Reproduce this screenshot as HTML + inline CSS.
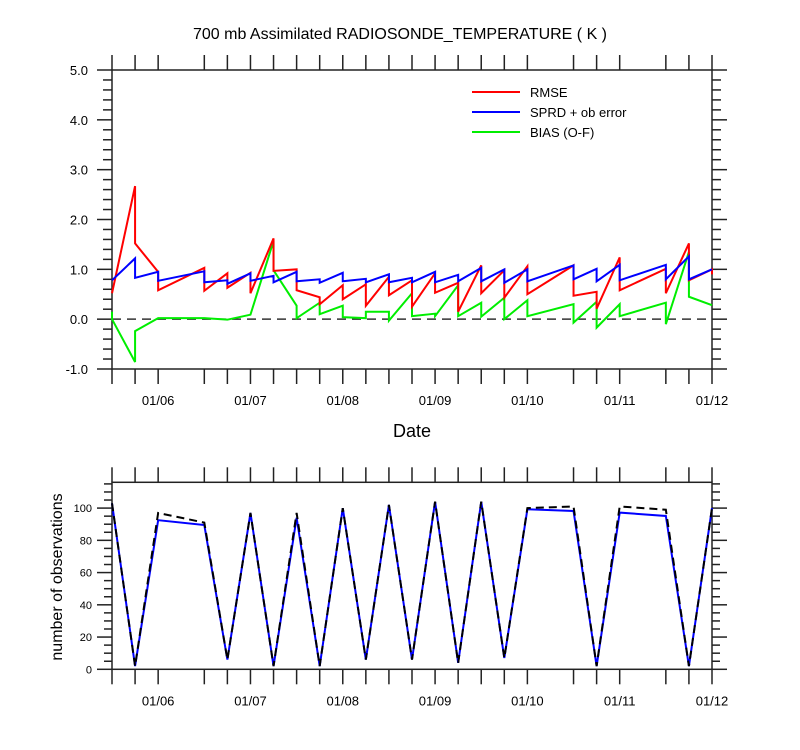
<!DOCTYPE html>
<html><head><meta charset="utf-8"><style>
html,body{margin:0;padding:0;background:#fff;}
svg{display:block;font-family:"Liberation Sans",sans-serif;}
</style></head><body>
<svg id="chart" width="800" height="750" xmlns="http://www.w3.org/2000/svg">
<text x="400" y="39" text-anchor="middle" font-size="16">700 mb Assimilated RADIOSONDE_TEMPERATURE ( K )</text>
<text x="412" y="437" text-anchor="middle" font-size="18">Date</text>
<text transform="translate(62,577) rotate(-90)" text-anchor="middle" font-size="16">number of observations</text>
<g>
<line x1="472" y1="92" x2="520" y2="92" stroke="#ff0000" stroke-width="2"/>
<text x="530" y="97" font-size="13">RMSE</text>
<line x1="472" y1="112" x2="520" y2="112" stroke="#0000ff" stroke-width="2"/>
<text x="530" y="117" font-size="13">SPRD + ob error</text>
<line x1="472" y1="132" x2="520" y2="132" stroke="#00ee00" stroke-width="2"/>
<text x="530" y="137" font-size="13">BIAS (O-F)</text>
</g>
</svg>
<script>
// time indices (6-hourly steps from 01/05 12Z)
const times = [0,1,2,4,5,6,7,8,9,10,11,12,13,14,15,16,17,18,20,21,22,24,25,26];
const dateLabels = ["01/06","01/07","01/08","01/09","01/10","01/11","01/12"];
const dateLabelIdx = [2,6,10,14,18,22,26];
// each time: [value before jump, value after jump]
const rmse = [[0.52,0.52],[2.67,1.52],[0.95,0.58],[1.03,0.57],[0.92,0.63],[0.93,0.52],[1.62,0.97],[1.0,0.58],[0.44,0.30],[0.68,0.40],[0.70,0.27],[0.85,0.48],[0.78,0.25],[0.92,0.53],[0.73,0.15],[1.08,0.52],[0.98,0.43],[1.06,0.50],[1.08,0.47],[0.55,0.21],[1.24,0.58],[1.01,0.52],[1.52,0.78],[1.0,0.90]];
const sprd = [[0.78,0.78],[1.22,0.83],[0.95,0.77],[0.96,0.74],[0.78,0.71],[0.92,0.77],[0.87,0.74],[0.95,0.76],[0.80,0.73],[0.93,0.76],[0.81,0.74],[0.90,0.74],[0.83,0.74],[0.95,0.74],[0.89,0.76],[1.03,0.76],[1.0,0.73],[1.0,0.76],[1.08,0.80],[1.01,0.76],[1.09,0.78],[1.09,0.80],[1.26,0.80],[1.0,1.0]];
const bias = [[0.15,0.0],[-0.86,-0.24],[0.02,0.02],[0.02,0.02],[-0.01,-0.01],[0.09,0.09],[1.57,0.98],[0.27,0.02],[0.33,0.10],[0.27,0.04],[0.02,0.15],[0.15,-0.03],[0.52,0.06],[0.11,0.06],[0.68,0.06],[0.33,0.05],[0.43,0.0],[0.38,0.06],[0.30,-0.07],[0.35,-0.17],[0.30,0.06],[0.33,-0.10],[1.35,0.45],[0.28,0.28]];
const obsAll = [103,2,97,91,6,97,2,97,2,100,6,102,6,104,4,104,7,100,101,2,101,99,2,100];
const obsUsed = [103,2,92.5,89.5,6,97,2,94,2,100,6,102,6,104,4,104,7,99.3,98.2,2,97.2,95.1,2,100];
const topYTicks = ["-1.0","0.0","1.0","2.0","3.0","4.0","5.0"];
const botYTicks = ["0","20","40","60","80","100"];

const svg = document.getElementById('chart');
const NS = 'http://www.w3.org/2000/svg';
const X0 = 112, X1 = 712, NT = 26;
const xs = i => X0 + (X1 - X0) * i / NT;
const T0 = 70, T1 = 369, TMIN = -1, TMAX = 5;
const yt = v => T1 - (v - TMIN) / (TMAX - TMIN) * (T1 - T0);
const B0 = 482.3, B1 = 669.3, BMAX = 116;
const yb = v => B1 - v / BMAX * (B1 - B0);

function mk(tag, attrs) { const e = document.createElementNS(NS, tag); for (const k in attrs) e.setAttribute(k, attrs[k]); svg.appendChild(e); return e; }

function line(x1, y1, x2, y2, w) { return mk('line', {x1, y1, x2, y2, stroke: '#222', 'stroke-width': w || 1.5}); }

function frame(top, bot, prefix) {
  const r = mk('rect', {x: X0, y: top, width: X1 - X0, height: bot - top, fill: 'none', stroke: '#222', 'stroke-width': 1.5});
  
  
  times.forEach(t => {
    const a = line(xs(t), bot, xs(t), bot + 15);
    
    
    const b = line(xs(t), top, xs(t), top - 15);
    
    
  });
  dateLabelIdx.forEach((t, k) => {
    const tx = mk('text', {x: xs(t), y: bot + 36, 'text-anchor': 'middle', 'font-size': 13});
    tx.textContent = dateLabels[k];
    
    
  });
}

function series(data, color, name, yf, dash) {
  let pts = [];
  data.forEach((d, i) => { pts.push(xs(times[i]) + ',' + yf(d[0])); pts.push(xs(times[i]) + ',' + yf(d[1])); });
  const p = mk('polyline', {points: pts.join(' '), fill: 'none', stroke: color, 'stroke-width': 2});
  if (dash) p.setAttribute('stroke-dasharray', dash);
  
  
}

// top panel
frame(T0, T1, 'top');
for (let v = -1; v <= 5.0001; v += 0.2) {
  const vv = Math.round(v * 10) / 10;
  const major = Math.abs(vv - Math.round(vv)) < 1e-6;
  const len = major ? 15 : 9;
  const a = line(X0 - len, yt(vv), X0, yt(vv));
  
  
  const b = line(X1, yt(vv), X1 + len, yt(vv));
  
  
}
topYTicks.forEach(s => {
  const t = mk('text', {x: 88, y: yt(parseFloat(s)) + 5, 'text-anchor': 'end', 'font-size': 13});
  t.textContent = s;
  
  
});
const zl = mk('line', {x1: X0, y1: yt(0), x2: X1, y2: yt(0), stroke: '#333', 'stroke-width': 1.5, 'stroke-dasharray': '9,6'});


series(bias.map(d => [Math.max(TMIN, d[0]), d[1]]), '#00ee00', 'bias-line', yt);
series(rmse, '#ff0000', 'rmse-line', yt);
series(sprd, '#0000ff', 'sprd-line', yt);

// bottom panel
frame(B0, B1, 'bottom');
for (let v = 0; v <= BMAX; v += 5) {
  const major = v % 20 === 0;
  const len = major ? 15 : 8;
  const a = line(X0 - len, yb(v), X0, yb(v));
  
  
  const b = line(X1, yb(v), X1 + len, yb(v));
  
  
}
botYTicks.forEach(s => {
  const t = mk('text', {x: 92, y: yb(parseFloat(s)) + 4, 'text-anchor': 'end', 'font-size': 11});
  t.textContent = s;
  
  
});
series(obsUsed.map(v => [v, v]), '#0000ff', 'obs-used-line', yb);
series(obsAll.map(v => [v, v]), '#000000', 'obs-total-line', yb, '8,5');
</script>
</body></html>
